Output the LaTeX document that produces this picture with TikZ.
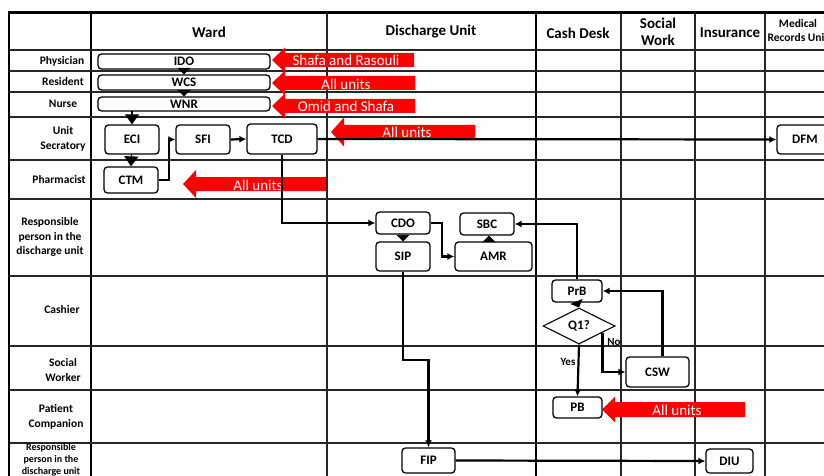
\documentclass[tikz,border=0pt]{standalone}
\usepackage{fontspec}
\setmainfont{Carlito}
\usetikzlibrary{shapes.geometric,arrows.meta,calc}
\definecolor{arrred}{RGB}{255,0,0}
\pgfdeclarelayer{back}
\pgfdeclarelayer{mid}
\pgfsetlayers{back,mid,main}
\newcommand{\redarr}[5]{%
  \fill[arrred] (#1,#2) -- (#1+13,#2-#4) -- (#1+13,#2-#5) -- (#3,#2-#5) -- (#3,#2+#5) -- (#1+13,#2+#5) -- (#1+13,#2+#4) -- cycle;}
\begin{document}
\begin{tikzpicture}[x=1pt,y=-1pt,
  box/.style={draw=black,line width=1.3pt,rounded corners=3.5pt,fill=white,inner sep=0pt,font=\fontsize{13}{13}\selectfont\bfseries},
  grid/.style={line width=1.4pt,black!85},
  conn/.style={line width=2.2pt,-{Latex[length=7pt,width=7pt]}},
  tri/.style={line width=0.8pt,-{Triangle[length=6.5pt,width=13pt]}},
  bigtri/.style={line width=1.2pt,-{Triangle[length=10pt,width=14pt]}},
  lab/.style={font=\fontsize{11.5}{14.5}\selectfont\bfseries,align=center,inner sep=0pt},
  slab/.style={font=\fontsize{10}{12}\selectfont\bfseries,align=center,inner sep=0pt},
  hdr/.style={font=\fontsize{15}{17}\selectfont\bfseries,align=center,inner sep=0pt},
  shdr/.style={font=\fontsize{11.5}{14}\selectfont\bfseries,align=center,inner sep=0pt},
  rtxt/.style={font=\fontsize{15}{15}\selectfont,text=white,inner sep=0pt},
  yn/.style={font=\fontsize{11}{11}\selectfont\bfseries,inner sep=0pt}]
\useasboundingbox (0,0) rectangle (824,476);
\clip (0,0) rectangle (824,476);
\begin{pgfonlayer}{back}
\fill[white] (0,0) rectangle (824,476);
% grid
\foreach \x in {327,621,695,765} \draw[grid] (\x,12) -- (\x,480);
\draw[line width=1.9pt] (9,12) -- (9,480);
\draw[line width=1.9pt] (91,12) -- (91,480);
\draw[line width=2.2pt] (536,12) -- (536,480);
\foreach \y in {50,71,92,117,160,199,276,346,390,443} \draw[grid] (9,\y) -- (830,\y);
\draw[line width=3pt] (8,12.5) -- (830,12.5);
\end{pgfonlayer}
% headers
\node[hdr] (hward) at (209,32) {Ward};
\node[hdr] (hdis) at (431,32) {Discharge Unit};
\node[hdr] (hcash) at (578,33) {Cash Desk};
\node[hdr] (hsoc) at (658,32) {Social\\Work};
\node[hdr] (hins) at (730,33) {Insurance};
\node[shdr] (hmed) at (798,31) {Medical\\Records Unit};
% row labels
\node[lab] (rphy) at (62,61) {Physician};
\node[lab] (rres) at (63,82) {Resident};
\node[lab] (rnur) at (63,104) {Nurse};
\node[lab] (runi) at (63,139) {Unit\\Secratory};
\node[lab] (rpha) at (59,180) {Pharmacist};
\node[lab] (rrsp) at (50,237) {Responsible\\person in the\\discharge unit};
\node[lab] (rcas) at (62,310) {Cashier};
\node[lab] (rsoc) at (63,370) {Social\\Worker};
\node[lab] (rpat) at (56,417) {Patient\\Companion};
\node[slab] (rrsp2) at (51,460) {Responsible\\person in the\\discharge unit};
% red arrows
\redarr{272}{60}{414}{12.5}{7}
\node[rtxt] (ra1) at (346,60) {Shafa and Rasouli};
\redarr{272}{83}{415}{12.5}{7}
\node[rtxt] (ra2) at (346,84) {All units};
\redarr{272}{106}{415}{12.5}{7}
\node[rtxt] (ra3) at (346,106) {Omid and Shafa};
\redarr{331}{132}{475}{14.5}{7}
\node[rtxt] (ra4) at (407,132) {All units};
\redarr{183}{184}{326}{14}{7}
\node[rtxt] (ra5) at (258,185) {All units};
\redarr{602}{409.5}{745}{13}{7.5}
\node[rtxt] (ra6) at (677,410) {All units};
% boxes
\node[box,minimum width=172pt,minimum height=15pt] (IDO) at (184,61.5) {IDO};
\node[box,minimum width=172pt,minimum height=15pt] (WCS) at (184,82.5) {WCS};
\node[box,minimum width=172pt,minimum height=14pt] (WNR) at (184,104) {WNR};
\node[box,minimum width=54pt,minimum height=29pt] (ECI) at (132,139.5) {ECI};
\node[box,minimum width=54pt,minimum height=29pt] (SFI) at (203,139.5) {SFI};
\node[box,minimum width=70pt,minimum height=30pt] (TCD) at (282,139) {TCD};
\node[box,minimum width=54pt,minimum height=26pt] (CTM) at (131,180) {CTM};
\node[box,minimum width=56pt,minimum height=29pt] (DFM) at (805,139.5) {DFM};
\node[box,minimum width=54pt,minimum height=22pt] (CDO) at (403,223) {CDO};
\node[box,minimum width=54pt,minimum height=29pt] (SIP) at (403,256.5) {SIP};
\node[box,minimum width=54pt,minimum height=22pt] (SBC) at (487,224) {SBC};
\node[box,minimum width=77pt,minimum height=29pt] (AMR) at (493.5,256.5) {AMR};
\node[box,minimum width=50pt,minimum height=22pt] (PrB) at (577,291) {PrB};
\node[draw=black,line width=1.1pt,shape=diamond,minimum width=72pt,minimum height=36pt,inner sep=0pt,fill=white,font=\fontsize{13}{13}\selectfont\bfseries] (Q1) at (579,326) {Q1?};
\node[box,minimum width=49pt,minimum height=21pt] (PB) at (577.5,407.5) {PB};
\node[box,minimum width=63pt,minimum height=30pt] (CSW) at (657.5,372) {CSW};
\node[box,minimum width=53pt,minimum height=25pt] (FIP) at (428.5,460.5) {FIP};
\node[box,minimum width=47pt,minimum height=24pt] (DIU) at (729.5,461) {DIU};
% triangle connectors
\draw[tri] (IDO.south) -- (WCS.north);
\draw[tri] (WCS.south) -- (WNR.north);
\draw[tri] (CDO.south) -- (SIP.north);
\draw[tri] (AMR.north -| 489,0) -- (SBC.south -| 489,0);
\draw[tri] (PrB.south) -- (Q1.north);
\begin{pgfonlayer}{mid}
\draw[bigtri] (WNR.center -| ECI.north) -- (ECI.north);
\draw[bigtri] (ECI.center) -- (CTM.north);
\end{pgfonlayer}
% connectors
\draw[conn] (CTM.east) -- ++(10,0) |- (SFI.west);
\draw[conn] (SFI.east) -- (TCD.west);
\draw[conn] (TCD.east) -- (DFM.west);
\draw[conn] (TCD.south) |- (CDO.west);
\draw[conn] (CDO.east) -- ++(11,0) |- (AMR.west);
\coordinate (k1) at (403,360);
\draw[conn] (SIP.south) -- (k1) -| (FIP.north);
\draw[conn] (FIP.east) -- (DIU.west);
\draw[conn] (PrB.north) |- (SBC.east);
\draw[conn] (Q1.south) -- (PB.north);
\coordinate (qn) at ($(Q1.east)!0.36!(Q1.south)$);
\draw[conn] (qn) |- (CSW.west);
\draw[conn] ([xshift=5pt]CSW.north) |- (PrB.east);
\node[yn] (yes) at (568,362) {Yes};
\node[yn] (no) at (614,342) {No};
\end{tikzpicture}
\end{document}
